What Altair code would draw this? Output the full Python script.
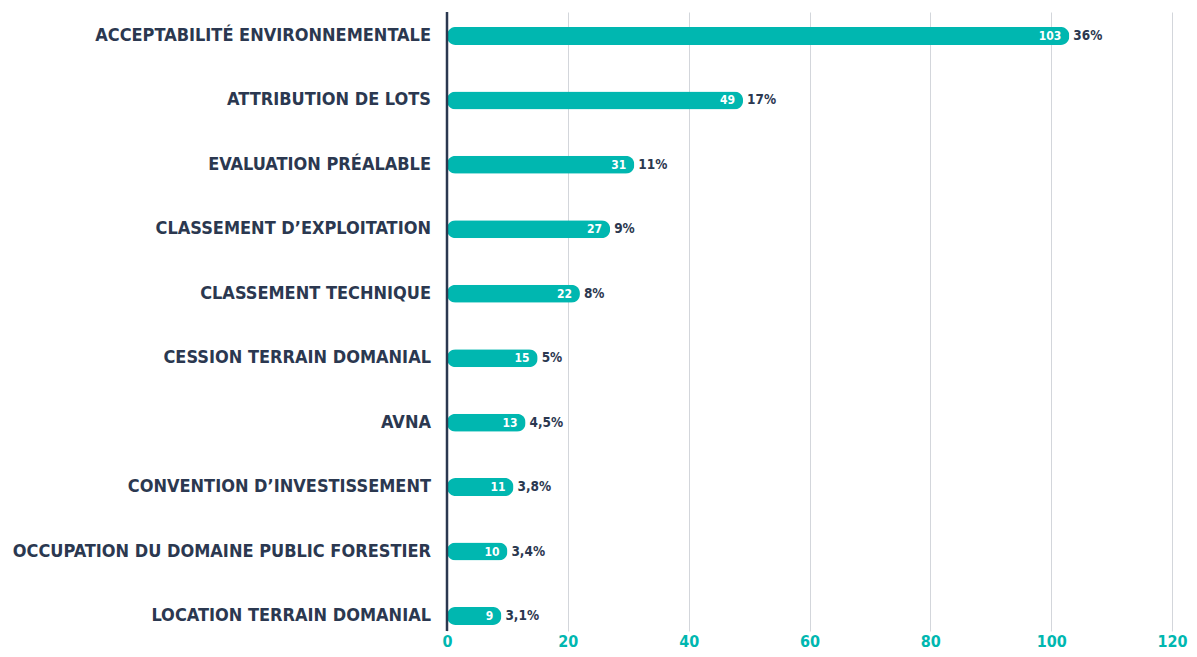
import altair as alt
import pandas as pd

categories = [
    "ACCEPTABILITÉ ENVIRONNEMENTALE",
    "ATTRIBUTION DE LOTS",
    "EVALUATION PRÉALABLE",
    "CLASSEMENT D’EXPLOITATION",
    "CLASSEMENT TECHNIQUE",
    "CESSION TERRAIN DOMANIAL",
    "AVNA",
    "CONVENTION D’INVESTISSEMENT",
    "OCCUPATION DU DOMAINE PUBLIC FORESTIER",
    "LOCATION TERRAIN DOMANIAL",
]
values = [103, 49, 31, 27, 22, 15, 13, 11, 10, 9]
percents = ["36%", "17%", "11%", "9%", "8%", "5%", "4,5%", "3,8%", "3,4%", "3,1%"]
x_ticks = [0, 20, 40, 60, 80, 100, 120]

df = pd.DataFrame({
    "cat": categories,
    "value": values,
    "pct": percents,
    "idx": list(range(len(categories))),
})

TEAL = "#00b7b0"
NAVY = "#2b3850"
FONT = "DejaVu Sans Condensed"

y = alt.Y("idx:Q", axis=None,
          scale=alt.Scale(domain=[-0.372, 9.233], reverse=True, nice=False,
                          zero=False, padding=0))
x = alt.X("value:Q",
          scale=alt.Scale(domain=[0, 120], nice=False, padding=0),
          axis=alt.Axis(values=x_ticks, title=None, domain=False, ticks=False,
                        grid=True, gridColor="#d3d6db", gridWidth=1,
                        labelColor=TEAL, labelFont=FONT, labelFontSize=16,
                        labelFontWeight="bold", labelPadding=2, labelFlush=False))

base = alt.Chart(df)

bars = base.mark_bar(orient="horizontal", size=18, cornerRadius=8.5, color=TEAL).encode(
    x=x, y=y)

inside = base.mark_text(align="right", baseline="middle", dx=-8, color="white",
                        font=FONT, fontSize=12, fontWeight="bold").encode(
    x="value:Q", y=y, text="value:Q")

pct = base.mark_text(align="left", baseline="middle", dx=4, color=NAVY,
                     font=FONT, fontSize=13.5, fontWeight="bold").encode(
    x="value:Q", y=y, text="pct:N")

cats = base.mark_text(align="right", baseline="middle", color=NAVY,
                      font=FONT, fontSize=18, fontWeight="bold").encode(
    x=alt.value(-16), y=y, text="cat:N")

axis_line = alt.Chart(pd.DataFrame({"z": [0]})).mark_rule(color=NAVY, strokeWidth=2.5).encode(
    x=alt.X("z:Q"))

chart = alt.layer(bars, inside, pct, cats, axis_line).properties(
    width=725, height=619,
    autosize=alt.AutoSizeParams(type="none"),
    padding={"left": 439, "top": 4, "right": 17, "bottom": 18},
).configure_view(stroke=None)

chart.save("out.html", embed_options={"renderer": "svg", "actions": False})
